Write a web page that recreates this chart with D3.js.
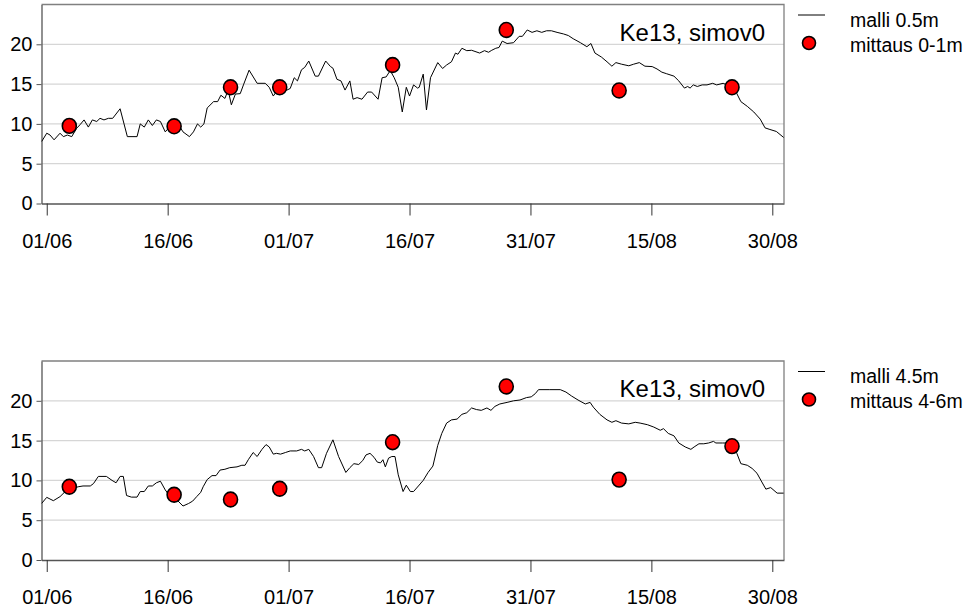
<!DOCTYPE html>
<html><head><meta charset="utf-8">
<script src="https://cdn.jsdelivr.net/npm/d3@7"></script>
<style>
body{margin:0;background:#fff;}
svg{display:block;font-family:"Liberation Sans",Arial,sans-serif;}
</style></head>
<body>
<svg id="c" width="972" height="616"></svg>
<script>
// ---------- data ----------
const xTickDays = [0, 15, 30, 45, 60, 75, 90];
const xTickLabels = ["01/06", "16/06", "01/07", "16/07", "31/07", "15/08", "30/08"];
const yTicks = [0, 5, 10, 15, 20];
const chartTitle = "Ke13, simov0";

// measurement days (days since 01/06)
const measDays = [2.8, 15.8, 22.8, 28.9, 42.9, 57.0, 71.0, 85.0];
const measTop = [9.75, 9.7, 14.6, 14.6, 17.4, 21.8, 14.2, 14.6];
const measBottom = [9.2, 8.2, 7.6, 8.95, 14.8, 21.8, 10.1, 14.3];

// model 0.5 m
const modelTopDays = [-0.62,0,0.41,0.91,1.65,2.06,2.56,3.1,3.72,4.13,4.63,5.16,5.66,6.2,6.61,7.1,7.65,8.18,9.1,10.0,11.2,11.6,12.1,12.6,13.1,13.6,14.1,14.7,15.1,15.8,16.3,16.9,17.7,18.2,18.7,19.1,19.5,19.9,20.7,21.2,21.6,22.1,22.5,22.9,23.4,24.0,24.4,25.1,26.1,27.1,27.6,28.1,28.6,29.4,29.8,30.2,30.7,31.1,31.6,32.0,32.5,33.3,33.7,34.6,35.2,35.5,36.0,36.5,37.0,37.6,38.0,38.5,39.1,39.8,40.3,41.1,41.6,42.1,42.6,43.1,43.6,44.1,44.6,45.0,45.5,46.0,46.2,46.7,47.1,47.6,48.5,49.1,49.6,50.2,50.7,51.0,51.5,52.1,52.7,53.7,54.3,54.8,55.2,55.7,56.1,56.5,57.1,57.9,58.6,59.0,59.6,60.2,60.8,61.4,62.0,62.6,63.3,64.1,64.7,65.3,66.2,67.0,67.5,68.0,68.8,69.5,70.1,70.6,71.3,72.2,72.8,73.5,74.2,75.1,75.7,76.3,76.9,77.8,78.4,79.1,79.5,79.8,80.2,80.7,81.3,81.9,82.6,83.1,83.9,84.6,85.2,85.6,86.1,86.9,87.7,88.5,89.1,89.7,90.5,91.4];
const modelTopVals = [7.8,8.83,8.6,8.0,8.83,8.4,8.6,8.4,9.46,9.9,10.5,9.6,10.5,10.3,10.7,10.5,10.7,10.7,11.9,8.4,8.4,10.0,9.6,10.5,9.8,10.5,10.3,9.0,9.46,9.7,10.0,9.0,8.4,9.0,10.0,9.6,10.0,12.0,12.8,12.8,13.6,13.2,14.25,12.4,13.75,13.8,14.9,16.75,15.1,15.1,14.6,13.5,14.2,14.25,14.25,14.45,15.8,15.4,16.8,17.1,17.9,16.0,16.0,17.9,17.2,17.0,15.6,15.4,14.25,15.4,13.1,13.3,13.1,14.0,14.0,13.1,15.8,15.9,16.7,15.8,14.6,11.5,14.6,13.5,14.9,14.5,14.6,16.25,11.75,15.8,17.7,16.96,17.4,17.8,18.9,18.75,19.5,19.2,19.25,18.9,19.2,19.0,19.25,19.5,19.6,20.4,20.1,20.2,21.0,21.0,21.8,21.5,21.7,21.5,21.7,21.7,21.5,21.3,21.1,20.7,20.2,19.7,20.1,18.9,18.4,17.8,17.25,17.7,17.5,17.3,17.5,17.7,17.25,17.2,16.9,16.5,16.3,16.0,15.4,14.5,14.7,14.5,14.9,14.7,14.9,14.9,15.1,14.9,15.1,14.8,14.6,13.8,12.8,12.2,11.5,10.6,9.5,9.3,9.05,8.3];

// model 4.5 m
const modelBottomDays = [-0.62,0,0.82,1.65,2.4,2.8,3.3,3.9,4.5,5.4,5.8,6.4,7.4,8.1,8.6,9.1,9.5,9.9,10.5,11.2,11.6,12.1,12.6,13.1,13.6,14.1,14.7,15.3,15.7,16.1,16.9,17.6,18.1,18.6,19.1,19.4,19.9,20.5,21.0,21.5,22.1,22.7,23.6,24.2,24.6,25.0,25.6,26.1,26.7,27.2,27.6,28.1,28.5,29.0,29.6,30.2,31.0,31.6,32.0,32.5,33.1,33.7,34.1,34.7,35.5,36.2,37.1,37.6,38.1,38.7,39.2,39.6,40.1,40.6,41.0,41.4,41.7,42.0,42.4,42.8,43.2,43.6,44.2,44.6,45.1,45.5,46.1,46.7,47.3,47.9,48.5,49.0,49.6,50.2,50.9,51.5,52.1,52.7,53.3,53.9,54.6,55.1,55.6,56.2,57.1,57.9,58.7,59.5,60.1,60.6,61.0,62.4,63.7,64.4,65.1,65.9,66.8,67.4,67.8,68.6,69.5,70.1,70.6,71.3,72.2,73.0,73.6,74.5,75.3,76.1,76.5,77.1,77.8,78.4,79.2,79.9,80.3,80.9,81.5,82.1,82.7,83.0,83.8,84.4,85.2,85.6,86.1,86.9,87.5,88.1,88.7,89.2,89.8,90.6,91.4];
const modelBottomVals = [7.12,7.87,7.45,7.96,8.71,8.6,9.0,9.2,9.3,9.3,9.6,10.5,10.5,10.0,9.7,10.5,10.5,8.1,7.9,7.9,8.6,8.6,9.3,9.3,9.7,9.9,8.8,8.0,8.4,7.6,6.78,7.1,7.4,7.96,8.5,9.2,10.1,10.6,10.6,11.3,11.4,11.6,11.7,11.9,11.9,12.6,13.5,13.0,13.9,14.5,14.2,13.3,13.4,13.3,13.5,13.7,13.7,13.9,13.7,13.9,13.0,11.6,11.6,13.4,15.1,13.0,11.0,11.6,12.1,12.0,12.5,13.2,13.4,12.9,12.3,12.2,12.6,11.7,12.8,13.0,13.0,10.7,8.6,9.4,8.6,8.6,9.3,10.0,11.0,11.8,14.4,15.9,17.2,17.6,17.7,18.3,18.5,19.1,18.9,18.8,19.1,18.8,19.3,19.6,19.8,20.0,20.1,20.4,20.5,20.9,21.4,21.4,21.4,21.1,20.6,20.1,19.6,19.8,19.2,18.3,17.6,17.3,17.5,17.2,17.1,17.3,17.2,17.0,16.7,16.3,16.5,15.9,15.6,14.7,14.2,13.9,14.2,14.6,14.6,14.7,14.9,14.7,14.7,14.7,14.2,13.4,12.1,11.9,11.5,10.9,9.8,8.9,9.1,8.4,8.4];

const legendTop = ["malli 0.5m", "mittaus 0-1m"];
const legendBottom = ["malli 4.5m", "mittaus 4-6m"];

// ---------- drawing ----------
const svg = d3.select("#c");
const x = d3.scaleLinear().domain([-0.65, 91.45]).range([41.5, 784]);

function panel(top, bottom, mDays, mVals, sVals, legend) {
  const y = d3.scaleLinear().domain([0, 25]).range([bottom, top]);
  const g = svg.append("g");
  // gridlines
  g.selectAll("line.grid").data(yTicks.filter(d => d > 0)).enter().append("line")
    .attr("x1", x.range()[0]).attr("x2", x.range()[1])
    .attr("y1", d => y(d)).attr("y2", d => y(d))
    .attr("stroke", "#d6d6d6").attr("stroke-width", 1.3);
  // border top/right
  g.append("path")
    .attr("d", `M${x.range()[0]},${top}H${x.range()[1]}V${bottom}`)
    .attr("fill", "none").attr("stroke", "#808080").attr("stroke-width", 1.3);
  // y axis
  const ya = g.append("g").attr("transform", `translate(${x.range()[0]},0)`)
    .call(d3.axisLeft(y).tickValues(yTicks).tickSize(5).tickPadding(4).tickSizeOuter(0));
  ya.select(".domain").attr("stroke", "#555").attr("stroke-width", 1.3);
  ya.selectAll(".tick line").attr("stroke", "#555");
  ya.selectAll("text").attr("font-size", 20).attr("fill", "#000")
    .attr("font-family", "Liberation Sans, Arial, sans-serif");
  // x axis
  const xa = g.append("g").attr("transform", `translate(0,${bottom})`)
    .call(d3.axisBottom(x).tickValues(xTickDays).tickFormat((d, i) => xTickLabels[i])
      .tickSize(12).tickPadding(18).tickSizeOuter(0));
  xa.select(".domain").attr("stroke", "#555").attr("stroke-width", 1.3);
  xa.selectAll(".tick line").attr("stroke", "#333");
  xa.selectAll("text").attr("font-size", 20).attr("fill", "#000")
    .attr("font-family", "Liberation Sans, Arial, sans-serif");
  // model line
  const line = d3.line().x(d => x(d[0])).y(d => y(d[1]));
  g.append("path").datum(mDays.map((d, i) => [d, mVals[i]]))
    .attr("d", line).attr("fill", "none").attr("stroke", "#000").attr("stroke-width", 1);
  // measurements
  g.selectAll("ellipse.m").data(measDays.map((d, i) => [d, sVals[i]])).enter().append("ellipse")
    .attr("cx", d => x(d[0])).attr("cy", d => y(d[1])).attr("rx", 7).attr("ry", 7.4)
    .attr("fill", "#ff0000").attr("stroke", "#000").attr("stroke-width", 1.6);
  // title
  g.append("text").attr("x", 765).attr("y", top + 36).attr("text-anchor", "end")
    .attr("font-size", 24).attr("fill", "#000").text(chartTitle);
  // legend
  g.append("line").attr("x1", 798).attr("x2", 825).attr("y1", top + 10.5).attr("y2", top + 10.5)
    .attr("stroke", "#000").attr("stroke-width", 1);
  g.append("circle").attr("cx", 809).attr("cy", top + 38.5).attr("r", 6.5)
    .attr("fill", "#ff0000").attr("stroke", "#000").attr("stroke-width", 1.6);
  g.append("text").attr("x", 850).attr("y", top + 22).attr("font-size", 19.5).attr("fill", "#000").text(legend[0]);
  g.append("text").attr("x", 850).attr("y", top + 47).attr("font-size", 19.5).attr("fill", "#000").text(legend[1]);
}

panel(4.5, 203.5, modelTopDays, modelTopVals, measTop, legendTop);
panel(361, 560, modelBottomDays, modelBottomVals, measBottom, legendBottom);
</script>
</body></html>
